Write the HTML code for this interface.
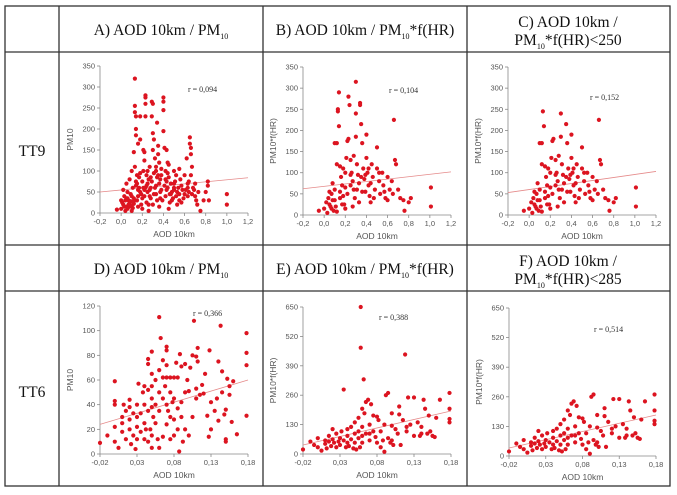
<!DOCTYPE html>
<html><head><meta charset="utf-8"><style>
html,body{margin:0;padding:0;background:#fff;}
svg{display:block;}
</style></head><body>
<svg id="fig" width="677" height="495" viewBox="0 0 677 495" xmlns="http://www.w3.org/2000/svg">
<g stroke="#333" stroke-width="1.3" fill="none">
<rect x="5" y="6" width="665" height="480"/>
<line x1="59" y1="6" x2="59" y2="486"/>
<line x1="263" y1="6" x2="263" y2="486"/>
<line x1="467" y1="6" x2="467" y2="486"/>
<line x1="5" y1="52" x2="670" y2="52"/>
<line x1="5" y1="245" x2="670" y2="245"/>
<line x1="5" y1="291" x2="670" y2="291"/>
</g>
<g font-family="Liberation Serif, serif" font-size="15.5" fill="#111">
<text x="161" y="35" text-anchor="middle">A) AOD 10km / PM<tspan font-size="8" dy="4">10</tspan></text>
<text x="365" y="35" text-anchor="middle">B) AOD 10km / PM<tspan font-size="8" dy="4">10</tspan><tspan dy="-4">*f(HR)</tspan></text>
<text x="568" y="27" text-anchor="middle">C) AOD 10km /</text>
<text x="568" y="45" text-anchor="middle">PM<tspan font-size="8" dy="4">10</tspan><tspan dy="-4">*f(HR)&lt;250</tspan></text>
<text x="161" y="274" text-anchor="middle">D) AOD 10km / PM<tspan font-size="8" dy="4">10</tspan></text>
<text x="365" y="274" text-anchor="middle">E) AOD 10km / PM<tspan font-size="8" dy="4">10</tspan><tspan dy="-4">*f(HR)</tspan></text>
<text x="568" y="266" text-anchor="middle">F) AOD 10km /</text>
<text x="568" y="284" text-anchor="middle">PM<tspan font-size="8" dy="4">10</tspan><tspan dy="-4">*f(HR)&lt;285</tspan></text>
<text x="32" y="156" text-anchor="middle">TT9</text>
<text x="32" y="397" text-anchor="middle">TT6</text>
</g>
</svg>
<script>
// ---- data ----
const ticksX9 = [-0.2,0,0.2,0.4,0.6,0.8,1.0,1.2];
const ticksX9Labels = ["-0,2","0,0","0,2","0,4","0,6","0,8","1,0","1,2"];
const ticksY9 = [0,50,100,150,200,250,300,350];
const ticksX6 = [-0.02,0.03,0.08,0.13,0.18];
const ticksX6Labels = ["-0,02","0,03","0,08","0,13","0,18"];
const ticksYD = [0,20,40,60,80,100,120];
const ticksYE = [0,130,260,390,520,650];

const aX = [0.0,-0.04,0.02,0.05,0.07,0.03,0.08,0.1,0.12,0.04,0.06,0.09,0.11,0.13,0.13,0.13,0.14,0.14,0.14,0.16,0.12,0.13,0.15,0.14,0.17,0.18,0.18,0.16,0.19,0.2,0.21,0.22,0.23,0.23,0.23,0.23,0.22,0.21,0.24,0.25,0.22,0.2,0.24,0.26,0.27,0.28,0.29,0.3,0.29,0.3,0.31,0.3,0.32,0.33,0.34,0.35,0.35,0.36,0.33,0.31,0.3,0.34,0.37,0.38,0.4,0.4,0.4,0.4,0.41,0.43,0.44,0.42,0.45,0.44,0.42,0.46,0.45,0.48,0.5,0.5,0.52,0.52,0.54,0.55,0.56,0.58,0.6,0.62,0.63,0.64,0.65,0.65,0.66,0.66,0.67,0.66,0.68,0.7,0.72,0.75,0.78,0.8,0.82,0.82,0.83,1.0,1.0,0.05,0.02,0.1,0.08,0.27,0.37,0.47,0.57,0.7,0.6,0.15,0.25,0.35,0.45,0.55,0.18,0.28,0.38,0.48,0.1,0.0,0.06,0.16,0.26,0.36,0.5,
 0.01,0.03,0.04,0.06,0.07,0.09,0.1,0.11,0.12,0.15,0.16,0.17,0.19,0.2,0.21,0.22,0.24,0.25,0.26,0.27,0.28,0.29,0.31,0.32,0.33,0.34,0.36,0.37,0.38,0.39,0.41,0.42,0.43,0.44,0.46,0.47,0.49,0.5,0.51,0.53,0.55,0.57,0.59,0.61,0.63,0.64,0.67,0.69,0.71,0.73,0.08,0.12,0.18,0.23,0.33,0.43,0.53,0.63,0.05,0.14];
const aY = [10,8,20,15,30,40,25,18,35,5,50,45,60,320,255,240,230,200,185,165,145,110,90,75,60,230,175,40,20,10,150,145,280,275,260,230,125,100,90,70,55,35,25,5,110,85,265,260,230,190,175,150,130,100,215,160,140,120,65,45,20,30,80,55,275,265,245,195,155,150,120,100,85,60,40,25,10,50,70,100,90,40,60,30,80,55,45,130,70,50,180,165,155,140,110,90,60,40,20,5,30,50,75,65,30,45,20,70,55,100,80,40,35,45,25,70,90,30,50,90,115,105,95,60,105,30,5,30,10,15,20,15,55,
 25,15,30,35,20,28,40,12,22,70,55,85,45,75,60,40,65,100,80,55,35,75,95,60,45,85,70,50,90,30,65,80,55,95,45,70,35,60,75,50,45,65,35,55,40,75,45,55,30,50,15,28,50,60,110,75,20,60,35,65];

const bX = [-0.05,0.0,0.02,0.04,0.05,0.06,0.07,0.08,0.09,0.1,0.1,0.12,0.12,0.13,0.13,0.14,0.14,0.15,0.16,0.17,0.18,0.19,0.2,0.2,0.21,0.22,0.23,0.23,0.24,0.25,0.26,0.27,0.28,0.29,0.3,0.3,0.3,0.31,0.32,0.33,0.34,0.34,0.35,0.36,0.37,0.38,0.39,0.4,0.4,0.41,0.42,0.43,0.44,0.45,0.46,0.48,0.5,0.5,0.52,0.53,0.55,0.56,0.58,0.6,0.62,0.64,0.66,0.67,0.68,0.7,0.72,0.75,0.76,0.8,0.82,1.01,1.01,0.05,0.08,0.11,0.15,0.18,0.22,0.25,0.28,0.33,0.36,0.39,0.44,0.47,0.52,0.57,0.6,0.65,0.03,0.07,0.12,0.17,0.27,0.31,0.42,0.35,0.25,0.2,0.15,0.1];
const bY = [10,15,30,40,25,20,50,35,10,60,170,170,120,245,250,290,210,115,90,70,45,25,15,100,135,175,180,280,260,130,100,80,60,40,315,240,185,120,95,75,265,260,215,170,110,85,55,190,135,100,70,45,30,120,90,60,160,110,80,50,100,70,40,90,60,80,225,130,120,60,40,35,10,30,40,65,20,55,75,20,40,110,50,70,140,30,55,95,75,40,100,55,35,50,5,15,8,25,20,60,110,90,95,65,55,35];

const cX = [-0.05,0.0,0.02,0.04,0.05,0.06,0.07,0.08,0.09,0.1,0.1,0.12,0.12,0.13,0.14,0.15,0.16,0.17,0.18,0.19,0.2,0.2,0.21,0.22,0.23,0.25,0.26,0.27,0.28,0.29,0.3,0.3,0.31,0.32,0.33,0.35,0.36,0.37,0.38,0.39,0.4,0.4,0.41,0.42,0.43,0.44,0.45,0.46,0.48,0.5,0.5,0.52,0.53,0.55,0.56,0.58,0.6,0.62,0.64,0.66,0.67,0.68,0.7,0.72,0.75,0.76,0.8,0.82,1.01,1.01,0.05,0.08,0.11,0.15,0.18,0.22,0.25,0.28,0.33,0.36,0.39,0.44,0.47,0.52,0.57,0.6,0.65,0.03,0.07,0.12,0.17,0.27,0.31,0.42,0.35,0.25,0.2,0.15,0.1];
const cY = [10,15,30,40,25,20,50,35,10,60,170,170,120,245,210,115,90,70,45,25,15,100,135,175,180,130,100,80,60,40,240,185,120,95,75,215,170,110,85,55,190,135,100,70,45,30,120,90,60,160,110,80,50,100,70,40,90,60,80,225,130,120,60,40,35,10,30,40,65,20,55,75,20,40,110,50,70,140,30,55,95,75,40,100,55,35,50,5,15,8,25,20,60,110,90,95,65,55,35];

const dX = [-0.02,-0.01,0.0,0.0,0.0,0.0,0.0,0.005,0.01,0.01,0.01,0.012,0.015,0.015,0.02,0.02,0.02,0.02,0.022,0.025,0.025,0.028,0.03,0.03,0.03,0.03,0.032,0.035,0.035,0.038,0.04,0.04,0.04,0.04,0.042,0.045,0.045,0.045,0.045,0.045,0.048,0.05,0.05,0.05,0.05,0.05,0.05,0.05,0.052,0.055,0.055,0.055,0.058,0.06,0.06,0.06,0.06,0.06,0.062,0.065,0.065,0.065,0.065,0.068,0.07,0.07,0.07,0.07,0.07,0.07,0.072,0.075,0.075,0.075,0.075,0.078,0.08,0.08,0.08,0.08,0.083,0.085,0.085,0.087,0.088,0.09,0.09,0.09,0.092,0.095,0.095,0.098,0.1,0.1,0.102,0.105,0.105,0.107,0.11,0.11,0.112,0.112,0.115,0.118,0.12,0.122,0.125,0.127,0.128,0.13,0.135,0.138,0.14,0.14,0.143,0.145,0.145,0.148,0.15,0.15,0.15,0.152,0.155,0.155,0.158,0.16,0.165,0.178,0.178,0.178,0.178,0.13,0.11,0.095,0.085];
const dY = [9,15,59,43,40,22,10,5,30,25,18,40,35,12,44,38,28,20,8,33,15,4,40,30,22,12,57,33,18,50,55,40,25,12,20,77,73,52,35,10,20,83,65,55,45,38,15,5,30,60,40,25,12,111,68,50,35,5,94,76,62,45,14,55,87,84,72,62,40,24,35,62,50,30,12,42,62,45,28,15,74,37,20,2,81,71,42,30,10,73,50,60,15,51,70,80,30,108,79,53,86,75,48,56,49,65,31,14,84,20,35,45,75,27,104,67,50,32,12,10,36,61,55,48,26,59,16,98,82,72,31,42,45,20,62];

const eX = [-0.02,-0.01,-0.005,0.0,0.0,0.005,0.01,0.01,0.012,0.015,0.015,0.018,0.02,0.02,0.022,0.025,0.025,0.028,0.03,0.03,0.032,0.035,0.035,0.038,0.04,0.04,0.042,0.045,0.045,0.048,0.05,0.05,0.05,0.052,0.055,0.055,0.055,0.057,0.058,0.058,0.06,0.06,0.06,0.062,0.063,0.065,0.065,0.068,0.07,0.07,0.072,0.075,0.075,0.078,0.08,0.08,0.082,0.085,0.085,0.088,0.09,0.09,0.092,0.095,0.095,0.098,0.1,0.1,0.102,0.105,0.108,0.11,0.11,0.112,0.115,0.118,0.12,0.122,0.125,0.13,0.13,0.135,0.138,0.14,0.14,0.143,0.145,0.148,0.15,0.152,0.155,0.158,0.16,0.165,0.178,0.178,0.178,0.178,0.07,0.04,0.06,0.1,0.12];
const eY = [20,55,40,70,30,15,60,45,25,80,55,35,65,110,50,90,30,55,70,40,100,285,60,30,80,50,35,120,65,25,140,90,50,20,160,100,70,30,650,470,200,120,50,330,180,230,90,240,130,60,220,100,170,75,165,50,150,100,30,60,10,130,260,270,70,50,180,125,40,110,90,210,175,40,150,440,120,250,130,250,80,140,80,120,90,240,200,90,170,100,80,75,160,240,270,200,155,140,90,110,80,60,100];

const fX = [-0.02,-0.01,-0.005,0.0,0.0,0.005,0.01,0.01,0.012,0.015,0.015,0.018,0.02,0.02,0.022,0.025,0.025,0.028,0.03,0.03,0.032,0.035,0.038,0.04,0.04,0.042,0.045,0.045,0.048,0.05,0.05,0.05,0.052,0.055,0.055,0.055,0.057,0.06,0.06,0.06,0.063,0.065,0.065,0.068,0.07,0.07,0.072,0.075,0.075,0.078,0.08,0.08,0.082,0.085,0.085,0.088,0.09,0.09,0.092,0.095,0.095,0.098,0.1,0.1,0.102,0.105,0.108,0.11,0.11,0.112,0.115,0.12,0.122,0.125,0.13,0.13,0.135,0.138,0.14,0.14,0.143,0.145,0.148,0.15,0.152,0.155,0.158,0.16,0.165,0.178,0.178,0.178,0.178,0.07,0.04,0.06,0.1,0.12];
const fY = [20,55,40,70,30,15,60,45,25,80,55,35,65,110,50,90,30,55,70,40,100,60,30,80,50,35,120,65,25,140,90,50,20,160,100,70,30,200,120,50,180,230,90,240,130,60,220,100,170,75,165,50,150,100,30,60,10,130,260,270,70,50,180,125,40,110,90,210,175,40,150,120,250,130,250,80,140,80,120,90,240,200,90,170,100,80,75,160,240,270,200,155,140,90,110,80,60,100];

const trendA = [50,84], trendB = [62,102], trendC = [53,103];
const trendD = [24,60], trendE = [40,190], trendF = [35,180];

// ---- drawing ----
const NS = "http://www.w3.org/2000/svg";
const svg = document.getElementById('fig');
function mk(tag, attrs, parent){
  const el = document.createElementNS(NS, tag);
  for (const k in attrs) el.setAttribute(k, attrs[k]);
  parent.appendChild(el);
  return el;
}
function plot(id, px, dom, xs, ys, ticksX, ticksXL, ticksY, trend, rText, rPos, yTitle){
  const g = mk('g', {}, svg);
  
  
  const sx = v => px.x0 + (v - dom.x0) / (dom.x1 - dom.x0) * (px.x1 - px.x0);
  const sy = v => px.y0 - (v - dom.y0) / (dom.y1 - dom.y0) * (px.y0 - px.y1);
  const ax = mk('g', {stroke:'#888', 'stroke-width':'0.8'}, g);
  
  
  mk('line', {x1:px.x0, y1:px.y0, x2:px.x1, y2:px.y0}, ax);
  mk('line', {x1:px.x0, y1:px.y0, x2:px.x0, y2:px.y1}, ax);
  ticksX.forEach((t, i) => {
    const x = sx(t);
    mk('line', {x1:x, y1:px.y0, x2:x, y2:px.y0 + 3}, ax);
    const tx = mk('text', {x:x, y:px.y0 + 11, 'text-anchor':'middle', 'font-family':'Liberation Sans, sans-serif', 'font-size':'7.5', fill:'#555', stroke:'none'}, g);
    
    
    tx.textContent = ticksXL[i];
  });
  ticksY.forEach(t => {
    const y = sy(t);
    mk('line', {x1:px.x0 - 3, y1:y, x2:px.x0, y2:y}, ax);
    const ty = mk('text', {x:px.x0 - 5, y:y + 2.5, 'text-anchor':'end', 'font-family':'Liberation Sans, sans-serif', 'font-size':'7.5', fill:'#555'}, g);
    
    
    ty.textContent = String(t);
  });
  const xt = mk('text', {x:(px.x0 + px.x1) / 2, y:px.y0 + 24, 'text-anchor':'middle', 'font-family':'Liberation Sans, sans-serif', 'font-size':'8.5', fill:'#555'}, g);
  
  
  xt.textContent = 'AOD 10km';
  const cy = (px.y0 + px.y1) / 2, cx = px.x0 - 27;
  const yt = mk('text', {x:cx, y:cy, 'text-anchor':'middle', transform:'rotate(-90 ' + cx + ' ' + cy + ')', 'font-family':'Liberation Sans, sans-serif', 'font-size':'8.5', fill:'#555'}, g);
  
  
  yt.textContent = yTitle;
  const tl = mk('line', {x1:sx(dom.x0), y1:sy(trend[0]), x2:sx(dom.x1), y2:sy(trend[1]), stroke:'#e58a8a', 'stroke-width':'0.8'}, g);
  
  
  const pts = mk('g', {fill:'#dc1420'}, g);
  
  
  xs.forEach((v, i) => {
    const c = mk('circle', {cx:sx(v), cy:sy(ys[i]), r:2.1}, pts);
    
    
  });
  const r = mk('text', {x:rPos[0], y:rPos[1], 'font-family':'Liberation Serif, serif', 'font-size':'8', fill:'#333'}, g);
  
  
  r.textContent = rText;
}
const d9 = {x0:-0.2, x1:1.2, y0:0, y1:350};
plot('plot-a', {x0:100,x1:248,y0:213,y1:66}, d9, aX, aY, ticksX9, ticksX9Labels, ticksY9, trendA, 'r = 0,094', [188,92], 'PM10');
plot('plot-b', {x0:303,x1:451,y0:215,y1:67}, d9, bX, bY, ticksX9, ticksX9Labels, ticksY9, trendB, 'r = 0,104', [389,93], 'PM10*f(HR)');
plot('plot-c', {x0:508,x1:656,y0:215,y1:67}, d9, cX, cY, ticksX9, ticksX9Labels, ticksY9, trendC, 'r = 0,152', [590,100], 'PM10*f(HR)');
plot('plot-d', {x0:100,x1:248,y0:454,y1:306}, {x0:-0.02,x1:0.18,y0:0,y1:120}, dX, dY, ticksX6, ticksX6Labels, ticksYD, trendD, 'r = 0,366', [193,316], 'PM10');
plot('plot-e', {x0:303,x1:451,y0:454,y1:307}, {x0:-0.02,x1:0.18,y0:0,y1:650}, eX, eY, ticksX6, ticksX6Labels, ticksYE, trendE, 'r = 0,388', [379,320], 'PM10*f(HR)');
plot('plot-f', {x0:509,x1:656,y0:456,y1:308}, {x0:-0.02,x1:0.18,y0:0,y1:650}, fX, fY, ticksX6, ticksX6Labels, ticksYE, trendF, 'r = 0,514', [594,332], 'PM10*f(HR)');
</script>
</body></html>
